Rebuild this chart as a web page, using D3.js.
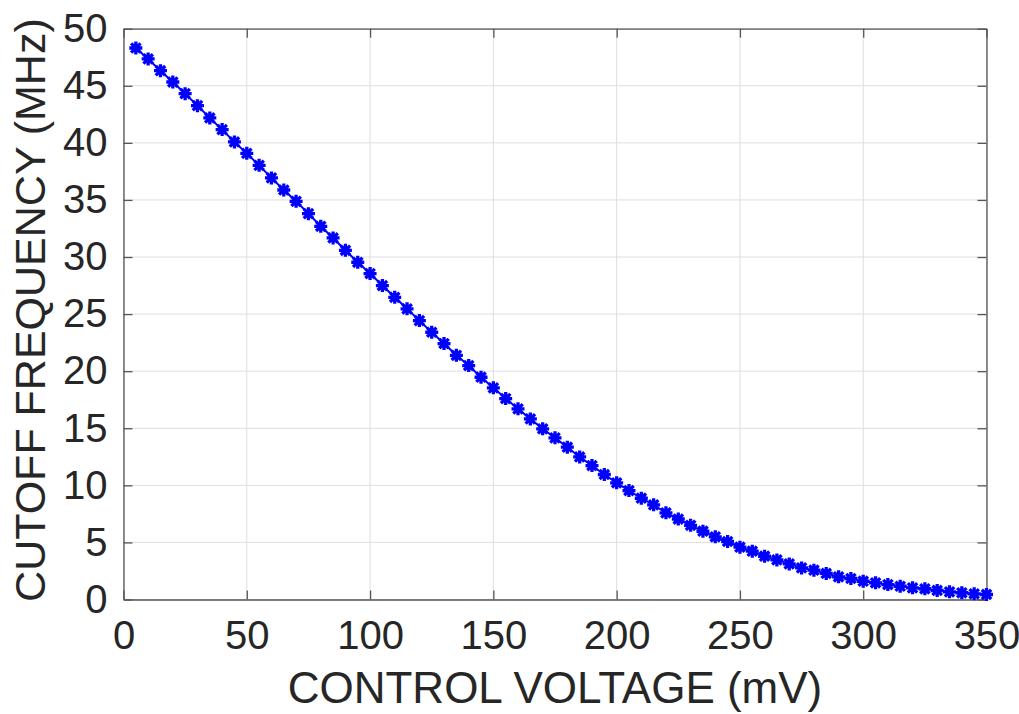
<!DOCTYPE html>
<html>
<head>
<meta charset="utf-8">
<script src="https://cdn.jsdelivr.net/npm/d3@7"></script>
<style>
  html, body { margin: 0; padding: 0; background: #fff; }
  svg { display: block; }
  text { font-family: "Liberation Sans", Arial, Helvetica, sans-serif; fill: #262626; }
</style>
</head>
<body>
<svg id="chart" width="1019" height="714"></svg>
<script>
// Data
const voltage = [5,10,15,20,25,30,35,40,45,50,55,60,65,70,75,80,85,90,95,100,
  105,110,115,120,125,130,135,140,145,150,155,160,165,170,175,180,185,190,195,200,
  205,210,215,220,225,230,235,240,245,250,255,260,265,270,275,280,285,290,295,300,
  305,310,315,320,325,330,335,340,345,350];
const cutoff = [48.31,47.35,46.32,45.33,44.31,43.26,42.18,41.16,40.08,39.08,
  38.03,36.93,35.87,34.88,33.80,32.69,31.67,30.59,29.54,28.55,
  27.50,26.47,25.46,24.43,23.41,22.42,21.39,20.49,19.47,18.54,
  17.60,16.70,15.82,14.95,14.16,13.34,12.49,11.73,10.95,10.22,
  9.54,8.87,8.29,7.59,7.05,6.50,5.98,5.49,5.08,4.58,
  4.23,3.79,3.47,3.12,2.77,2.57,2.28,1.99,1.84,1.60,
  1.46,1.31,1.16,1.02,0.94,0.79,0.67,0.59,0.50,0.44];
const xTicks = [0,50,100,150,200,250,300,350];
const yTicks = [0,5,10,15,20,25,30,35,40,45,50];
const xLabel = "CONTROL VOLTAGE (mV)";
const yLabel = "CUTOFF FREQUENCY (MHz)";

const data = voltage.map((v, i) => ({ x: v, y: cutoff[i] }));

const svg = d3.select("#chart");
const margin = { left: 123.5, right: 1019 - 986.5, top: 28.7, bottom: 714 - 599.5 };
const W = 1019, H = 714;
const x = d3.scaleLinear().domain([0, 350]).range([margin.left, W - margin.right]);
const y = d3.scaleLinear().domain([0, 50]).range([H - margin.bottom, margin.top]);

const x0 = x.range()[0], x1 = x.range()[1];
const y0 = y.range()[0], y1 = y.range()[1];

// Grid
const grid = svg.append("g");
grid.selectAll("line.gx").data(xTicks).enter().append("line")
  .attr("x1", d => x(d)).attr("x2", d => x(d)).attr("y1", y0).attr("y2", y1)
  .attr("stroke", "#dedede").attr("stroke-width", 1);
grid.selectAll("line.gy").data(yTicks).enter().append("line")
  .attr("y1", d => y(d)).attr("y2", d => y(d)).attr("x1", x0).attr("x2", x1)
  .attr("stroke", "#dedede").attr("stroke-width", 1);

// Axes (inward ticks)
const tickFont = "40px";
const axB = svg.append("g").attr("transform", `translate(0,${y0})`)
  .call(d3.axisBottom(x).tickValues(xTicks).tickSizeInner(-9).tickSizeOuter(0).tickPadding(22));
const axT = svg.append("g").attr("transform", `translate(0,${y1})`)
  .call(d3.axisTop(x).tickValues(xTicks).tickSizeInner(-9).tickSizeOuter(0).tickFormat(""));
const axL = svg.append("g").attr("transform", `translate(${x0},0)`)
  .call(d3.axisLeft(y).tickValues(yTicks).tickSizeInner(-9).tickSizeOuter(0).tickPadding(16));
const axR = svg.append("g").attr("transform", `translate(${x1},0)`)
  .call(d3.axisRight(y).tickValues(yTicks).tickSizeInner(-9).tickSizeOuter(0).tickFormat(""));

[axB, axT, axL, axR].forEach(a => {
  a.select(".domain").attr("stroke", "#555").attr("stroke-width", 1.3);
  a.selectAll(".tick line").attr("stroke", "#555").attr("stroke-width", 1.3);
  a.selectAll(".tick text").attr("font-size", tickFont)
    .attr("font-family", '"Liberation Sans", Arial, sans-serif').attr("fill", "#262626");
});
axB.selectAll(".tick text").attr("dy", "0.69em");

// Line
svg.append("path").datum(data)
  .attr("d", d3.line().x(d => x(d.x)).y(d => y(d.y)))
  .attr("fill", "none").attr("stroke", "#0000ff").attr("stroke-width", 2);

// Asterisk markers
const r = 6.5, dd = 4.7;
const star = `M${-r},0L${r},0M0,${-r}L0,${r}M${-dd},${-dd}L${dd},${dd}M${-dd},${dd}L${dd},${-dd}`;
svg.append("g").selectAll("path").data(data).enter().append("path")
  .attr("d", star)
  .attr("transform", d => `translate(${x(d.x)},${y(d.y)})`)
  .attr("fill", "none").attr("stroke", "#0000ff").attr("stroke-width", 3.3)
  .attr("stroke-linecap", "butt");

// Axis labels
svg.append("text").attr("x", (x0 + x1) / 2).attr("y", 703)
  .attr("text-anchor", "middle").attr("font-size", "44px").text(xLabel);
svg.append("text").attr("transform", `translate(45,${(y0 + y1) / 2 - 4}) rotate(-90)`)
  .attr("text-anchor", "middle").attr("font-size", "43px").text(yLabel);
</script>
</body>
</html>
